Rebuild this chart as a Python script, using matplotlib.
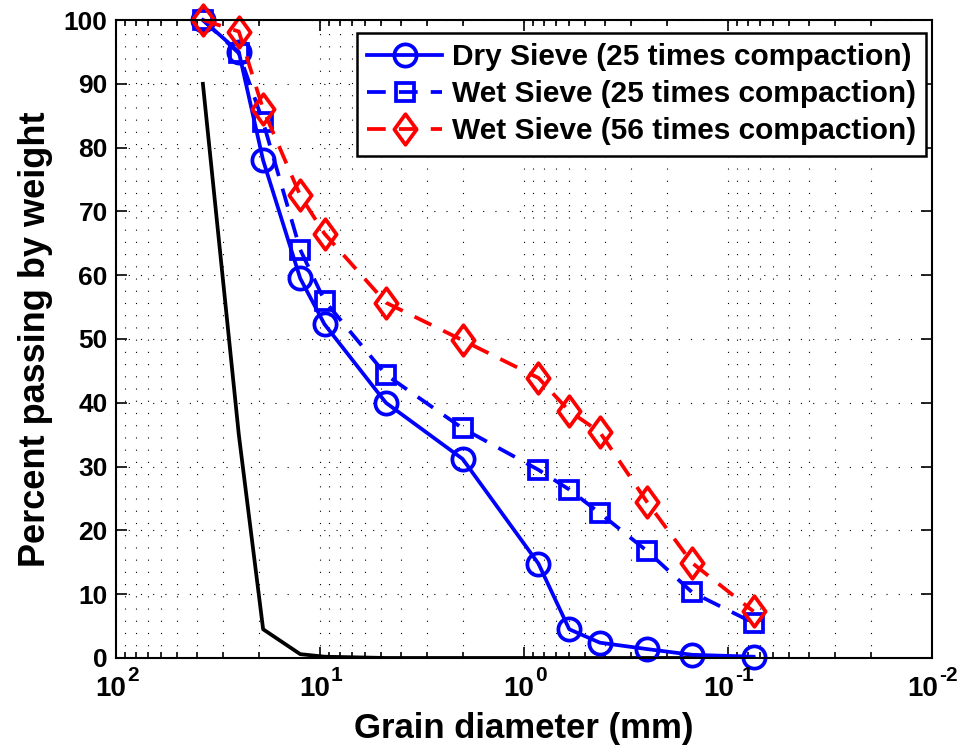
# -*- coding: utf-8 -*-

import numpy as np
import matplotlib
matplotlib.use('Agg')
import matplotlib.pyplot as plt
from matplotlib.path import Path
from matplotlib.ticker import NullFormatter

# sieve openings (mm)
sieve_mm = [37.5, 25, 19, 12.5, 9.5, 4.75, 2.0, 0.85, 0.6, 0.425, 0.25, 0.15, 0.075]

dry_25 = [100, 95, 78, 59.5, 52.3, 40, 31.2, 14.8, 4.5, 2.4, 1.4, 0.5, 0.2]
wet_25 = [100, 94.8, 84, 64, 56, 44.4, 36, 29.5, 26.4, 22.7, 16.8, 10.3, 5.5]
wet_56 = [100, 98.2, 86, 72.5, 66.5, 55.7, 49.8, 43.9, 38.7, 35.4, 24.5, 14.9, 7.3]
limit = [90, 35, 4.5, 0.6, 0.2, 0, 0, 0, 0, 0, 0, 0, 0]

labels = ['Dry Sieve (25 times compaction)',
          'Wet Sieve (25 times compaction)',
          'Wet Sieve (56 times compaction)']
x_exps = [2, 1, 0, -1, -2]

plt.rcParams['font.family'] = ['Liberation Sans', 'DejaVu Sans']
plt.rcParams['font.weight'] = 'bold'

# matlab style diamond, a bit taller than wide
diamond = Path([(0, 1), (0.73, 0), (0, -1), (-0.73, 0), (0, 1)],
               [Path.MOVETO, Path.LINETO, Path.LINETO, Path.LINETO, Path.CLOSEPOLY])

fig = plt.figure(figsize=(9.57, 7.5), dpi=100)
ax = fig.add_axes([0.1212, 0.1227, 0.8527, 0.8506])

lw = 2.7
dash = (0, (5, 3.5))
ax.plot(sieve_mm, limit, color='black', lw=lw)
ax.plot(sieve_mm, dry_25, color='blue', lw=lw, marker='o', ms=16,
        mfc='none', mew=lw, label=labels[0], clip_on=False)
ax.plot(sieve_mm, wet_25, color='blue', lw=lw, ls=dash, marker='s',
        ms=13, mfc='none', mew=lw, label=labels[1], clip_on=False)
ax.plot(sieve_mm, wet_56, color='red', lw=lw, ls=dash, marker=diamond,
        ms=22, mfc='none', mew=lw, label=labels[2], clip_on=False)

ax.set_xscale('log')
ax.set_xlim(100, 0.01)
ax.set_ylim(0, 100)
ax.set_yticks(np.arange(0, 101, 10))
ax.set_xticks([10.0 ** e for e in x_exps])
ax.xaxis.set_major_formatter(NullFormatter())

# tick labels "10^n" drawn by hand, so the exponent keeps a plain hyphen
fs, fs_e = 20, 15
for e in x_exps:
    exp_txt = str(e)
    w10 = 1.112 * fs
    w_exp = (0.556 * len(exp_txt.replace('-', '')) + (0.333 if e < 0 else 0)) * fs_e
    edge = (w10 - w_exp) / 2.0
    ax.annotate('10', xy=(10.0 ** e, 0), xycoords=('data', 'axes fraction'),
                xytext=(edge, -13), textcoords='offset points',
                ha='right', va='top', fontsize=fs, fontweight='bold')
    ax.annotate(exp_txt, xy=(10.0 ** e, 0), xycoords=('data', 'axes fraction'),
                xytext=(edge + 1, -6), textcoords='offset points',
                ha='left', va='top', fontsize=fs_e, fontweight='bold')

ax.grid(True, which='major', axis='y', ls=(0, (1, 10)), color='black', lw=0.8)
ax.grid(True, which='both', axis='x', ls=(0, (1, 10)), color='black', lw=0.8)

ax.tick_params(which='both', direction='in', top=True, right=True, width=1.2,
               labelsize=19, pad=6)
ax.tick_params(which='major', length=8)
ax.tick_params(which='minor', length=4)
for s in ax.spines.values():
    s.set_linewidth(1.5)

ax.set_xlabel('Grain diameter (mm)', fontsize=25, fontweight='bold', labelpad=33)
ax.set_ylabel('Percent passing by weight', fontsize=26, fontweight='bold', labelpad=8)

leg = ax.legend(loc='upper right', bbox_to_anchor=(0.993, 0.98), borderaxespad=0,
                fancybox=False, framealpha=1, edgecolor='black',
                handlelength=2.5, handletextpad=0.33, borderpad=0.35, labelspacing=0.3,
                prop={'weight': 'bold', 'size': 21.5})
leg.get_frame().set_linewidth(1.8)

fig.savefig('out.png', dpi=100)
